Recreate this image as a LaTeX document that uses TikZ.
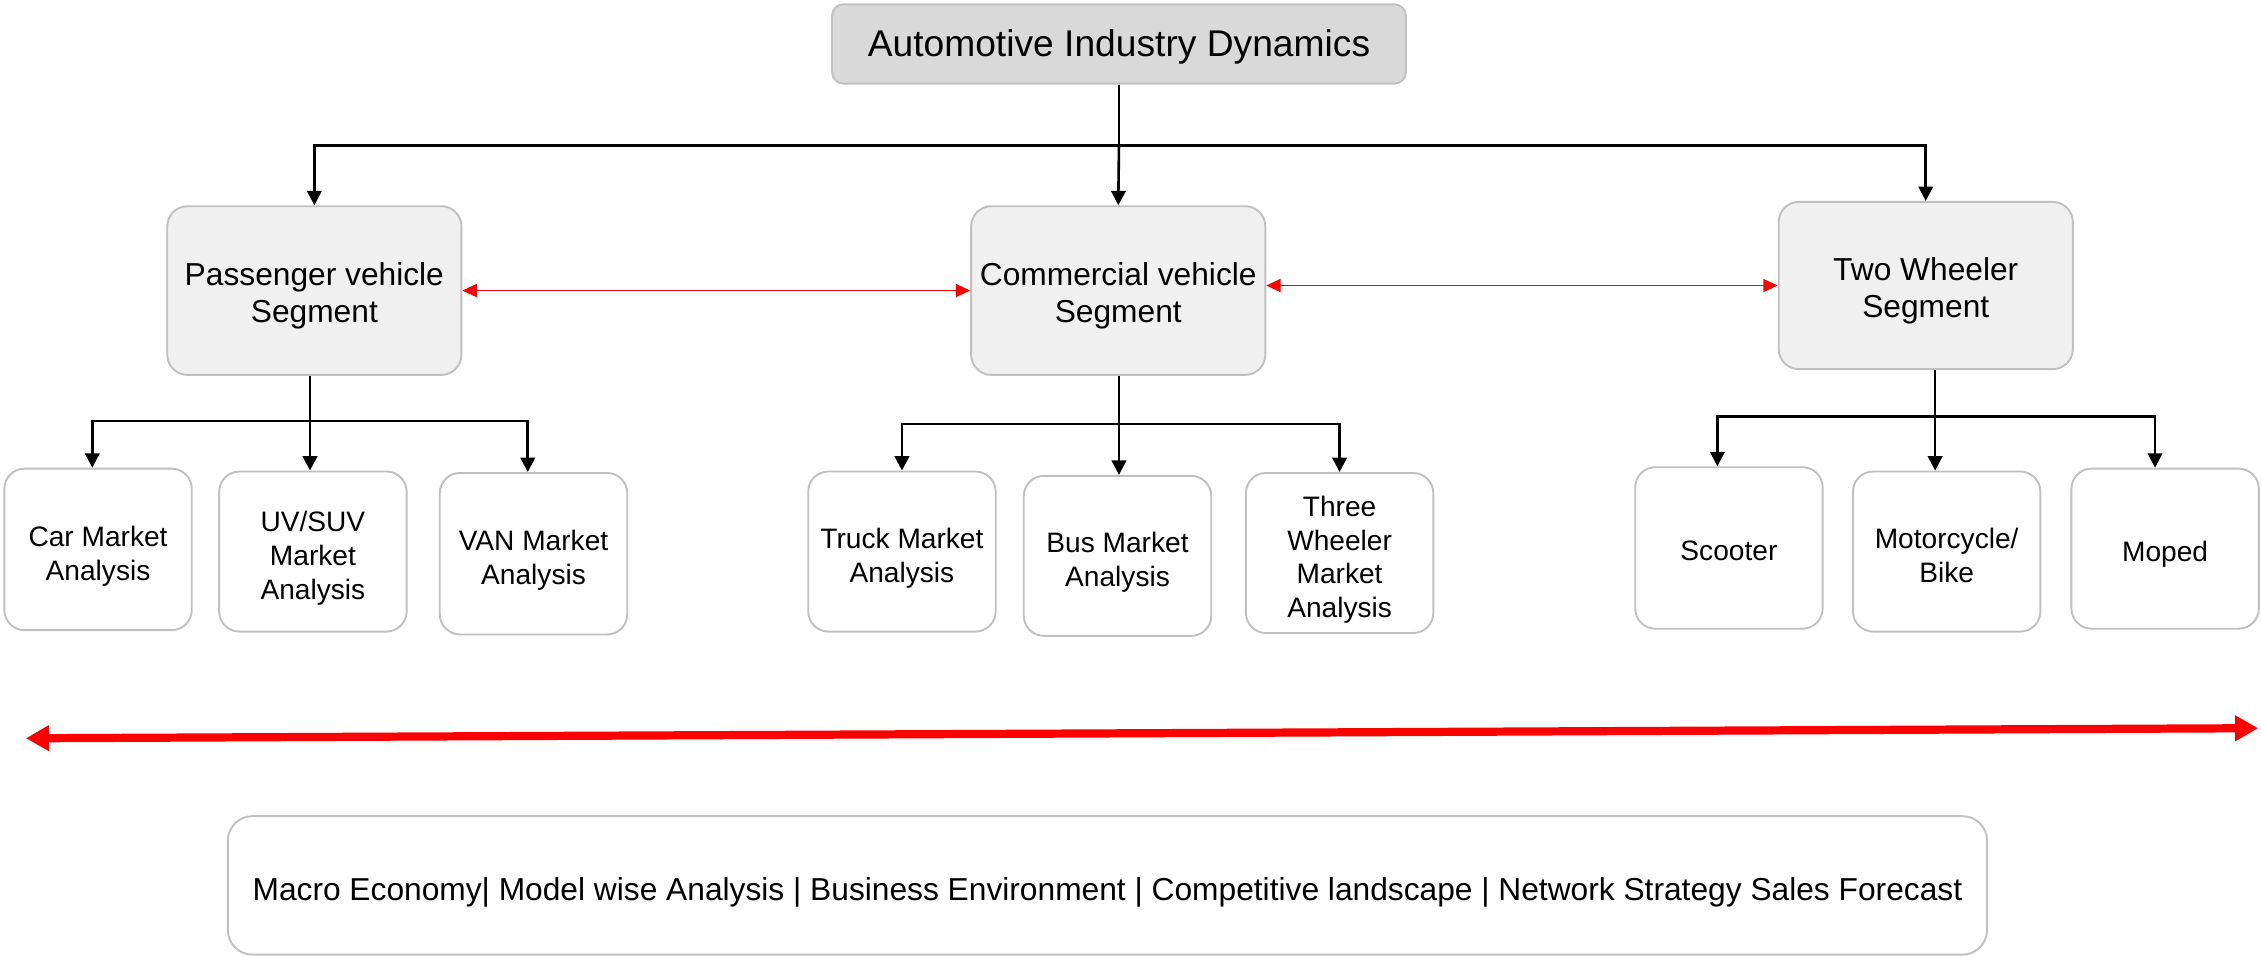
\documentclass[tikz,border=0pt]{standalone}
\usepackage{fontspec}
\setmainfont{Liberation Sans}
\usetikzlibrary{arrows.meta}
\definecolor{boxline}{HTML}{C0C0C0}
\definecolor{titlefill}{HTML}{D9D9D9}
\definecolor{segfill}{HTML}{EFF0EF}
\definecolor{redline}{HTML}{FF0000}
\newcommand{\ctext}[2]{\raisebox{#1}[\height][\depth]{\begin{tabular}{@{}c@{}}#2\end{tabular}}}
\tikzset{
  base/.style={draw=boxline, line width=1.3pt, inner sep=0pt},
  titlebox/.style={base, fill=titlefill, rounded corners=8pt, minimum width=398pt, minimum height=55pt, font=\fontsize{25.8}{30}\selectfont},
  segbox/.style={base, fill=segfill, rounded corners=14pt, minimum width=204pt, minimum height=117pt, font=\fontsize{22}{26}\selectfont},
  leafbox/.style={base, fill=white, rounded corners=14pt, minimum width=130pt, minimum height=111pt, font=\fontsize{19.5}{23.4}\selectfont},
  bottombox/.style={base, fill=white, rounded corners=17pt, minimum width=1220pt, minimum height=96pt, font=\fontsize{22}{26}\selectfont},
  conn/.style={draw=black, line width=1.8pt},
  arr/.style={conn, -{Triangle[length=10pt,width=10pt]}},
  redarr/.style={draw=redline, line width=1.3pt, {Triangle[length=10pt,width=9pt]}-{Triangle[length=10pt,width=9pt]}},
  bigred/.style={draw=redline, line width=5.7pt, {Triangle[length=16pt,width=17pt]}-{Triangle[length=16pt,width=17pt]}}
}
\begin{document}
\begin{tikzpicture}[x=1pt,y=-1pt]
\useasboundingbox (0,0) rectangle (1568,663);
\fill[white] (0,0) rectangle (1568,663);

% nodes
\node[titlebox] (title) at (776,30.5) {\ctext{-3pt}{Automotive Industry Dynamics}};
\node[segbox] (pv) at (218,201.5) {\ctext{-4pt}{Passenger vehicle\\Segment}};
\node[segbox] (cv) at (775.5,201.5) {\ctext{-4pt}{Commercial vehicle\\Segment}};
\node[segbox, minimum height=116pt] (tw) at (1335.5,198) {\ctext{-4pt}{Two Wheeler\\Segment}};

\node[leafbox, minimum height=112pt] (car) at (68,381) {\ctext{-5pt}{Car Market\\Analysis}};
\node[leafbox] (uv) at (217,382.5) {\ctext{-5pt}{UV/SUV\\Market\\Analysis}};
\node[leafbox, minimum height=112pt] (van) at (370,384) {\ctext{-5pt}{VAN Market\\Analysis}};

\node[leafbox] (truck) at (625.5,382.5) {\ctext{-5pt}{Truck Market\\Analysis}};
\node[leafbox] (bus) at (775,385.5) {\ctext{-5pt}{Bus Market\\Analysis}};
\node[leafbox] (three) at (929,383.5) {\ctext{-5pt}{Three\\Wheeler\\Market\\Analysis}};

\node[leafbox, minimum height=112pt] (scooter) at (1199,380) {\ctext{-4pt}{Scooter}};
\node[leafbox] (moto) at (1350,382.5) {\ctext{-5pt}{Motorcycle/\\Bike}};
\node[leafbox] (moped) at (1501.5,380.5) {\ctext{-4pt}{Moped}};

\node[bottombox] (bottom) at (768,614) {\ctext{-5pt}{Macro Economy| Model wise Analysis | Business Environment | Competitive landscape | Network Strategy Sales Forecast}};

% junction coordinates
\coordinate (j1) at (776,101);
\coordinate (j2) at (215,292);
\coordinate (j3) at (776,294);
\coordinate (j4) at (1342,289);
\coordinate (L) at (18,512);
\coordinate (R) at (1566,505);

% top level
\draw[conn] (title.south) -- (j1);
\draw[arr] (j1) -- (cv.north);
\draw[arr] (j1) -| (pv.north);
\draw[arr] (j1) -| (tw.north);

% segment links
\draw[redarr] (pv.east) -- (cv.west);
\draw[redarr] (cv.east |- tw.west) -- (tw.west);

% passenger children
\draw[conn] (pv.south -| j2) -- (j2);
\draw[arr] (j2) -| ([xshift=-4pt]car.north);
\draw[arr] (j2) -- ([xshift=-2pt]uv.north);
\draw[arr] (j2) -| ([xshift=-4pt]van.north);

% commercial children
\draw[conn] (cv.south -| j3) -- (j3);
\draw[arr] (j3) -| (truck.north);
\draw[arr] (j3) -- (bus.north -| j3);
\draw[arr] (j3) -| (three.north);

% two wheeler children
\draw[conn] (tw.south -| j4) -- (j4);
\draw[arr] (j4) -| ([xshift=-8pt]scooter.north);
\draw[arr] (j4) -- (moto.north -| j4);
\draw[arr] (j4) -| ([xshift=-7pt]moped.north);

% big red arrow
\draw[bigred] (L) -- (R);
\end{tikzpicture}
\end{document}
